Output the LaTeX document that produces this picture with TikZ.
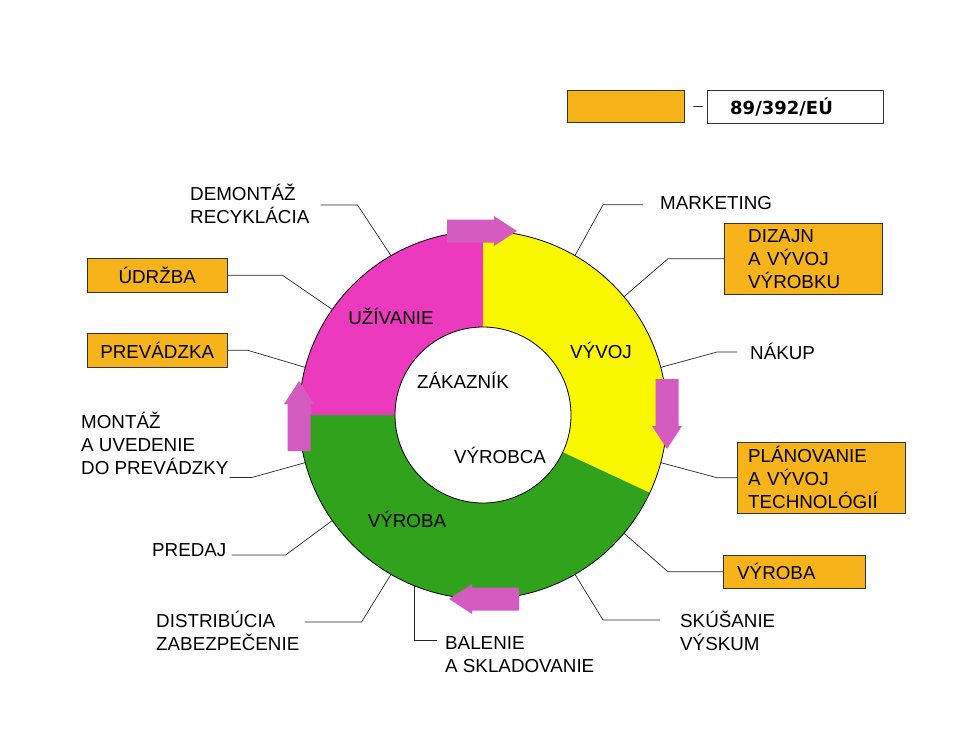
\documentclass[tikz,border=0pt]{standalone}
\usepackage{fontspec}
\setmainfont{Liberation Sans}
\newfontfamily\eufont{DejaVu Sans}
\usetikzlibrary{calc}
\definecolor{uzpink}{RGB}{236,58,190}
\definecolor{vyyellow}{RGB}{250,248,0}
\definecolor{vygreen}{RGB}{48,162,28}
\definecolor{arrowpink}{RGB}{212,92,192}
\definecolor{boxorange}{RGB}{246,180,26}
\tikzset{
  lbl/.style={inner sep=0pt, align=left, font=\fontsize{18.8}{23}\selectfont},
  obox/.style={draw=black!80, fill=boxorange, inner ysep=0pt, align=left, font=\fontsize{18.8}{23}\selectfont},
  conn/.style={draw=black!85, line width=0.7pt}
}
\begin{document}
\begin{tikzpicture}[x=1pt, y=1pt]
            \useasboundingbox (0,0) rectangle (961,-740);
            \coordinate (C) at (483,-415);
            \foreach \ang in {15,40,60,120,145,165,195,215,240,248,300,320,345}
                \coordinate (p\ang) at ($(C)+(\ang:184)$);
            \node[lbl, anchor=west] (demont) at (190,-204) {DEMONTÁŽ\\RECYKLÁCIA};
            \node[obox, minimum width=140pt, minimum height=34pt, anchor=north west] (udrzba) at (87,-258) {ÚDRŽBA};
            \node[obox, minimum width=140pt, minimum height=34pt, anchor=north west] (prevad) at (87,-333) {PREVÁDZKA};
            \node[lbl, anchor=west] (montaz) at (81,-443) {MONTÁŽ\\A UVEDENIE\\DO PREVÁDZKY};
            \node[lbl, anchor=base west] (predaj) at (152,-556.75) {PREDAJ};
            \node[lbl, anchor=west] (distrib) at (156,-631) {DISTRIBÚCIA\\ZABEZPEČENIE};
            \node[lbl, anchor=west] (balenie) at (445,-655) {BALENIE\\A SKLADOVANIE};
            \node[lbl, anchor=west] (skusanie) at (680,-631) {SKÚŠANIE\\VÝSKUM};
            \node[obox, text width=114pt, inner xsep=14pt, minimum height=33pt, anchor=north west] (vyrbox) at (723,-555) {VÝROBA};
            \node[obox, text width=146pt, inner xsep=11pt, minimum height=71pt, anchor=north west] (planov) at (737,-442) {PLÁNOVANIE\\A VÝVOJ\\TECHNOLÓGIÍ};
            \node[lbl, anchor=base west] (nakup) at (750,-359.75) {NÁKUP};
            \node[obox, text width=110pt, inner xsep=24pt, minimum height=71pt, anchor=north west] (dizajn) at (724,-223) {DIZAJN\\A VÝVOJ\\VÝROBKU};
            \node[lbl, anchor=base west] (market) at (660,-209.75) {MARKETING};
            \node[obox, minimum width=117pt, minimum height=32pt, anchor=north west] (smernica) at (567,-90) {};
            \node[draw=black!80, fill=white, text width=130pt, inner xsep=23pt, minimum height=33pt, anchor=north west, font=\eufont\bfseries\fontsize{18}{22}\selectfont] (eu) at (707,-90) {89/392/EÚ};
            \draw[conn] ([shift={(11,-1)}]demont.east) -- +(37,0) -- (p120);
            \draw[conn] (udrzba.east) -- +(55,0) -- (p145);
            \draw[conn] (prevad.east) -- +(20,0) -- (p165);
            \draw[conn] ([shift={(1,-3)}]montaz.south east) -- +(22,0) -- (p195);
            \draw[conn] ([shift={(5,1.75)}]predaj.base east) -- +(54,0) -- (p215);
            \draw[conn] ([shift={(5,9)}]distrib.east) -- +(57,0) -- (p240);
            \draw[conn] (p248) |- ([shift={(-8,-3.5)}]balenie.north west);
            \draw[conn] (p300) -- ([shift={(-77,11)}]skusanie.west) -- ([shift={(-20,11)}]skusanie.west);
            \draw[conn] (p320) -- ([xshift=-55pt]vyrbox.west) -- (vyrbox.west);
            \draw[conn] (p345) -- ([xshift=-20pt]planov.west) -- (planov.west);
            \draw[conn] (p15) -- ([shift={(-33,7.75)}]nakup.base west) -- ([shift={(-13,7.75)}]nakup.base west);
            \draw[conn] (p40) -- ([xshift=-56pt]dizajn.west) -- (dizajn.west);
            \draw[conn] (p60) -- ([shift={(-57,5)}]market.base west) -- ([shift={(-17,5)}]market.base west);
            \draw[conn, shorten <=9pt, shorten >=4pt] (smernica.east) -- (eu.west);
            \foreach \col/\a/\b in {uzpink/90/180, vyyellow/-25/90, vygreen/180/335}
                \fill[\col] ($(C)+(\a:184)$) arc[start angle=\a, end angle=\b, radius=184] -- ($(C)+(\b:88)$) arc[start angle=\b, end angle=\a, radius=88] -- cycle;
            \draw[line width=0.8pt] (C) circle[radius=184];
            \draw[line width=0.8pt] (C) circle[radius=88];
            \node[lbl, anchor=base] (uziv) at (391,-324.75) {UŽÍVANIE};
            \node[lbl, anchor=base] (vyvoj) at (601,-358.75) {VÝVOJ};
            \node[lbl, anchor=base] (zakaznik) at (463,-388.75) {ZÁKAZNÍK};
            \node[lbl, anchor=base] (vyrobca) at (500,-463.75) {VÝROBCA};
            \node[lbl, anchor=base] (vyroba) at (407,-527.75) {VÝROBA};
            \foreach \ang in {0,90,180,270}
                \fill[arrowpink, shift={($(C)+(\ang:184)$)}, rotate=\ang-90] (-36,-11.5) -- (11,-11.5) -- (11,-15) -- (34,0) -- (11,15) -- (11,11.5) -- (-36,11.5) -- cycle;
\end{tikzpicture}
\end{document}
